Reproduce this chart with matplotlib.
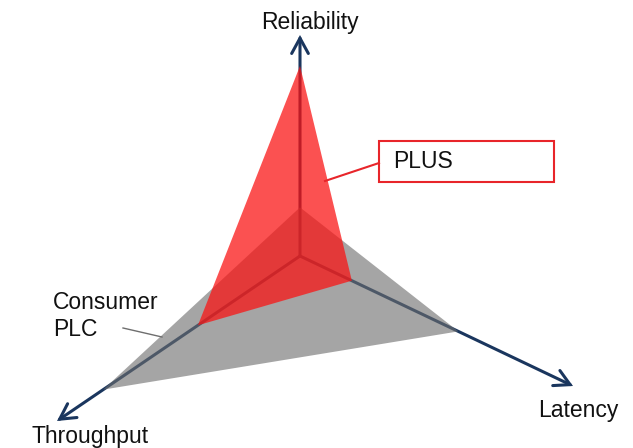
import numpy as np
import matplotlib
matplotlib.use("Agg")
import matplotlib.pyplot as plt
from matplotlib.patches import Polygon, Rectangle, FancyArrowPatch

plt.rcParams['font.family'] = ['Liberation Sans', 'DejaVu Sans']

# Axes of the comparison (scores on a 0-10 scale along each axis)
axis_names = ["Reliability", "Latency", "Throughput"]
plus_scores = [8.6, 1.9, 4.2]
consumer_scores = [2.2, 5.8, 8.1]
series_labels = ["PLUS", "Consumer\nPLC"]
axis_max = 10.0

# Drawing geometry (canvas units, y pointing down)
W, H = 633, 448
origin = np.array([300.0, 256.0])
tips = {
    "Reliability": np.array([300.0, 35.0]),
    "Latency": np.array([573.0, 386.0]),
    "Throughput": np.array([57.0, 421.0]),
}

navy = "#1a365e"
red = "#fa1414"
gray = "#6e6e6e"


def point(name, score):
    return origin + (tips[name] - origin) * (score / axis_max)


fig = plt.figure(figsize=(W / 100, H / 100), dpi=100)
ax = fig.add_axes([0, 0, 1, 1])
ax.set_xlim(0, W)
ax.set_ylim(H, 0)
ax.axis("off")

# axes with open arrow heads
for name in axis_names:
    arr = FancyArrowPatch(origin, tips[name],
                          arrowstyle="->,head_length=0.55,head_width=0.3",
                          mutation_scale=20, color=navy, lw=2.2,
                          shrinkA=0, shrinkB=0, capstyle="round",
                          joinstyle="miter", zorder=1)
    ax.add_patch(arr)

# consumer PLC triangle
cons_pts = [point(n, s) for n, s in zip(axis_names, consumer_scores)]
ax.add_patch(Polygon(cons_pts, closed=True, facecolor=gray, edgecolor="none",
                     alpha=0.62, zorder=2))

# PLUS triangle
plus_pts = [point(n, s) for n, s in zip(axis_names, plus_scores)]
ax.add_patch(Polygon(plus_pts, closed=True, facecolor=red, edgecolor="none",
                     alpha=0.74, zorder=3))

# axis labels
fs = 16.5
ax.text(310, 22, "Reliability", ha="center", va="center", fontsize=fs, color="#111111")
ax.text(578, 410, "Latency", ha="center", va="center", fontsize=fs, color="#111111")
ax.text(90, 437, "Throughput", ha="center", va="center", fontsize=fs, color="#111111")

# PLUS callout
ax.add_patch(Rectangle((379, 141), 175, 41, facecolor="white",
                       edgecolor="#e8252a", lw=1.5, zorder=4))
ax.plot([325, 379], [181, 163], color="#e8252a", lw=1.5, zorder=4)
ax.text(393, 162, series_labels[0], ha="left", va="center", fontsize=fs,
        color="#111111", zorder=5)

# Consumer PLC callout
ax.text(53, 316, series_labels[1], ha="left", va="center", fontsize=fs,
        color="#111111", linespacing=1.2)
ax.plot([123, 162], [328, 337], color="#6e6e6e", lw=1.0, zorder=4)

fig.savefig("out.png", dpi=100)
